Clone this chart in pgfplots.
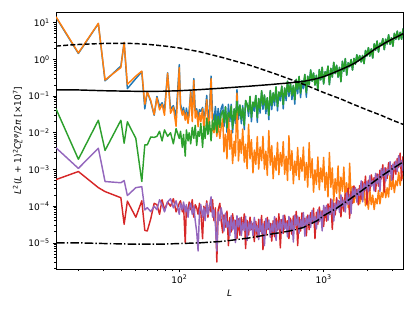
\documentclass[border=0pt]{standalone}
\usepackage{fontspec}
\setmainfont{DejaVu Sans}
\usepackage{pgfplots}
\usepackage{pgfplotstable}
\pgfplotsset{compat=1.18}
\definecolor{c0}{HTML}{1F77B4}
\definecolor{c1}{HTML}{FF7F0E}
\definecolor{c2}{HTML}{2CA02C}
\definecolor{c3}{HTML}{D62728}
\definecolor{c4}{HTML}{9467BD}

\pgfplotstableread{
L B O G R P
14 14 14.5 0.045 5.3e-4 3.9e-3
20 1.45 1.5 1.9e-3 8.8e-4 1.07e-3
27.5 9.4 9.6 0.022 3.2e-4 3.8e-3
30.6 0.26 0.275 3.3e-3 2.5e-4 4.7e-4
39.4 0.66 0.6 0.022 1.7e-4 4.35e-4
41.5 2.9 2.9 5.2e-3 3.2e-5 5.0e-4
43.7 0.16 0.21 0.02 1.37e-4 1.95e-4
50 0.3 0.35 7e-3 5e-5 3.2e-4
55 0.46 0.48 4.7e-4 1.4e-4 3.4e-4
57.7 0.045 0.06 4.7e-3 2.2e-5 7.9e-5
60 0.13 0.13 4.7e-3 2.1e-5 9.1e-5
63.5 0.07 0.075 7.7e-3 4.6e-5 7.1e-5
67 0.03 0.031 7.5e-3 1.2e-4 1.0e-4
70 0.098 0.09 8e-3 1.1e-4 8e-5
73 0.053 0.042 0.011 6e-5 1.5e-4
76 0.066 0.06 6e-3 1.5e-4 1.1e-4
79 0.042 0.03 0.012 8e-5 7e-5
83 0.43 0.42 8e-3 1.3e-4 1.3e-4
87 0.044 0.034 0.01 1.0e-4 1.6e-4
91 0.055 0.05 5e-3 1.6e-4 9e-5
95 0.028 0.015 0.013 7e-5 1.4e-4
100 0.72 0.6 7e-3 1.2e-4 6e-5
102 0.061 0.05 0.011 1.4e-4 1.2e-4
105 0.034 0.03 4e-3 7e-5 8e-5
107 0.049 0.04 9e-3 1.1e-4 1.3e-4
110 0.024 0.022 2.3e-3 1.0e-5 7e-5
112 0.047 0.035 0.012 1.0e-4 1.1e-4
115 0.024 0.018 6e-3 6e-5 5e-5
117 0.04 0.03 0.01 1.3e-4 9e-5
120 0.135 0.13 5e-3 8e-5 1.2e-4
123 0.034 0.02 0.014 1.5e-4 6e-5
126 0.30 0.27 7e-3 5e-5 1.0e-4
129 0.041 0.025 0.016 1.1e-4 4e-5
132 0.045 0.04 4.5e-3 9e-5 2e-5
135 0.026 0.0146 0.011 6e-5 6e-6
138 0.043 0.035 8e-3 1.2e-4 7e-5
141 0.038 0.02 0.018 7e-5 1.1e-4
145 0.049 0.045 4e-3 1.3e-5 5e-5
148 0.027 0.012 0.015 1.0e-4 9e-5
151 0.037 0.03 7e-3 6e-5 4e-5
155 0.105 0.08 0.025 1.4e-4 1.2e-4
158 0.024 0.015 9e-3 5e-5 6e-5
162 0.045 0.025 0.02 1.1e-4 1.0e-4
166 0.35 0.3 6e-3 7e-5 1.8e-4
170 0.034 0.012 0.022 1.5e-4 5e-5
174 0.022 0.01 0.012 4e-5 8e-5
178 0.052 0.022 0.03 9e-5 3e-5
182 0.018 0.008 0.01 3e-6 6e-6
186 0.046 0.018 0.028 8e-5 7e-5
191 0.021 0.007 0.014 1.2e-4 4e-5
195 0.046 0.014 0.032 4e-5 9e-5
200 0.06 0.024 0.040 1.88e-5 5.2e-5
204 0.0147 3.02e-3 0.0193 5.8e-5 2.1e-5
209 0.052 9.1e-3 0.0507 2.69e-5 6.5e-5
214 0.0103 1.95e-3 0.0136 7.3e-5 2.66e-5
219 0.06 0.0316 0.0355 8.4e-6 3.85e-5
224 0.020 3.55e-3 0.0263 4.9e-5 1.57e-5
229 0.06 0.0117 0.0537 2.0e-5 5.5e-5
234 0.010 1.45e-3 0.0132 6.2e-5 2.24e-5
240 0.0447 5.9e-3 0.0447 2.85e-5 4.2e-5
245 0.0178 2.34e-3 0.0234 4.1e-5 1.02e-5
251 0.15 0.12 0.0724 1.3e-5 5.5e-5
257 0.023 1.7e-3 0.0302 4.5e-5 2.74e-5
263 0.0569 6.6e-3 0.0569 1.62e-5 4.8e-5
269 0.0176 2.75e-3 0.0232 5.0e-5 1.58e-5
275 0.055 0.0126 0.0479 2.28e-5 3.6e-5
282 0.0122 1.58e-3 0.0160 6.2e-5 2.14e-5
288 0.0759 4.9e-3 0.0759 7.0e-6 5.3e-5
295 0.060 1.05e-3 0.060 4.1e-5 1.15e-5
302 0.028 0.017 0.0372 1.64e-5 3.7e-5
309 0.0977 1.95e-3 0.0977 5.05e-5 2.18e-5
316 0.020 6.5e-3 0.0263 2.32e-5 3.85e-5
324 0.0684 8.1e-4 0.0684 3.4e-5 1.58e-5
331 0.0385 3.4e-3 0.0507 1.08e-5 4.95e-5
339 0.1035 1.38e-3 0.1035 3.85e-5 2.04e-5
347 0.0193 7.9e-3 0.0254 1.4e-5 2.99e-5
355 0.0861 1.02e-3 0.0861 4.4e-5 1.23e-5
363 0.0343 4.1e-3 0.0452 2.04e-5 4.4e-5
372 0.1396 1.74e-3 0.1396 5.6e-5 1.8e-5
380 0.0437 8.0e-3 0.0575 6.5e-6 3.4e-5
389 0.107 1.02e-3 0.107 3.85e-5 8.4e-6
398 0.0332 3.16e-3 0.0437 1.58e-5 4.6e-5
407 0.0902 6.9e-4 0.0902 4.95e-5 2.32e-5
417 0.0227 0.0115 0.0299 2.32e-5 4.2e-5
427 0.141 1.32e-3 0.141 3.4e-5 1.42e-5
437 0.0427 4.5e-3 0.0562 1.11e-5 3.3e-5
447 0.122 5.6e-4 0.122 4.0e-5 2.03e-5
457 0.055 2.34e-3 0.0724 1.47e-5 5.2e-5
468 0.178 9.5e-4 0.178 4.7e-5 1.16e-5
479 0.0394 5.5e-3 0.0519 2.21e-5 3.8e-5
490 0.129 7.2e-4 0.129 6.2e-5 2.34e-5
501 0.0742 2.9e-3 0.0977 7.3e-6 4.3e-5
513 0.186 1.23e-3 0.186 4.3e-5 1.78e-5
525 0.0448 5.75e-3 0.0589 1.81e-5 5.65e-5
537 0.166 7.4e-4 0.166 5.7e-5 2.36e-5
550 0.0752 2.29e-3 0.0989 2.72e-5 3.5e-5
562 0.254 5.0e-4 0.254 4.0e-5 1.46e-5
575 0.0965 8.3e-3 0.127 1.3e-5 5.25e-5
589 0.219 9.5e-4 0.219 4.7e-5 2.19e-5
603 0.080 3.24e-3 0.105 1.72e-5 4.2e-5
617 0.195 4.1e-4 0.195 5.4e-5 1.05e-5
631 0.060 1.7e-3 0.0794 2.57e-5 5.75e-5
646 0.285 6.9e-4 0.285 7.2e-5 2.95e-5
661 0.116 3.98e-3 0.153 8.4e-6 5.4e-5
676 0.343 5.25e-4 0.343 5.0e-5 1.82e-5
692 0.091 2.09e-3 0.120 2.1e-5 4.3e-5
708 0.263 8.9e-4 0.263 6.6e-5 2.6e-5
724 0.159 4.07e-3 0.209 3.1e-5 6.7e-5
741 0.389 5.1e-4 0.389 4.7e-5 1.51e-5
759 0.093 1.55e-3 0.123 1.56e-5 5.1e-5
776 0.347 3.3e-4 0.347 5.7e-5 3.2e-5
794 0.204 5.4e-3 0.204 2.28e-5 5.7e-5
813 0.516 6.0e-4 0.516 6.6e-5 2.64e-5
832 0.255 1.95e-3 0.255 3.4e-5 7.7e-5
851 0.426 2.4e-4 0.426 8.9e-5 3.56e-5
871 0.200 9.8e-4 0.200 1.3e-5 5.2e-5
891 0.367 3.9e-4 0.367 6.8e-5 2.4e-5
912 0.147 2.19e-3 0.147 3.2e-5 8.0e-5
933 0.526 2.8e-4 0.526 9.5e-5 3.8e-5
955 0.278 1.1e-3 0.278 5.0e-5 7.1e-5
977 0.612 4.6e-4 0.612 7.5e-5 2.12e-5
1000 0.214 2.14e-3 0.214 2.8e-5 1.05e-4
1023 0.460 2.7e-4 0.460 9.3e-5 5.9e-5
1047 0.360 8.3e-4 0.360 3.9e-5 1.05e-4
1072 0.659 1.78e-4 0.659 1.15e-4 4.1e-5
1096 0.205 2.9e-3 0.205 6.0e-5 9.1e-5
1122 0.569 3.3e-4 0.569 1.58e-4 6.0e-5
1148 0.330 1.1e-3 0.330 2.34e-5 1.48e-4
1175 0.834 1.36e-4 0.834 1.23e-4 3.9e-5
1202 0.411 5.6e-4 0.411 5.75e-5 1.2e-4
1230 0.692 2.24e-4 0.692 1.7e-4 7.9e-5
1259 0.329 1.25e-3 0.329 9.1e-5 1.44e-4
1288 0.608 1.6e-4 0.608 1.36e-4 6.8e-5
1318 0.246 6.2e-4 0.246 5.1e-5 2.04e-4
1349 0.887 2.56e-4 0.887 1.73e-4 9.7e-5
1380 0.473 1.16e-3 0.473 7.3e-5 1.46e-4
1413 1.05 1.45e-4 1.05 2.19e-4 6.9e-5
1445 0.371 4.35e-4 0.371 1.17e-4 2.33e-4
1479 0.805 9.2e-5 0.805 3.1e-4 1.11e-4
1514 0.631 1.49e-3 0.631 4.7e-5 2.09e-4
1549 0.989 1.66e-4 0.989 2.49e-4 6.3e-5
1585 0.513 3.4e-4 0.513 1.19e-4 3.1e-4
1622 1.06 1.24e-4 1.06 3.56e-4 1.79e-4
1660 0.741 2.3e-4 0.741 1.91e-4 3.24e-4
1698 1.33 1.46e-4 1.33 2.86e-4 1.28e-4
1738 0.912 3.0e-4 0.912 1.08e-4 2.92e-4
1778 1.27 1.16e-4 1.27 3.65e-4 1.96e-4
1820 0.851 2.1e-4 0.851 1.55e-4 4.9e-4
1862 1.28 1.36e-4 1.28 4.6e-4 1.31e-4
1905 0.769 2.67e-4 0.769 2.47e-4 4.1e-4
1950 1.75 1.02e-4 1.75 6.6e-4 2.75e-4
1995 1.24 1.67e-4 1.24 1.13e-4 4.8e-4
2042 2.09 8.3e-5 2.09 5.1e-4 2.47e-4
2089 1.23 2.8e-4 1.23 2.63e-4 6.7e-4
2138 1.94 1.1e-4 1.94 7.1e-4 3.46e-4
2188 1.09 2.0e-4 1.09 4.1e-4 5.0e-4
2239 2.65 8.1e-5 2.65 6.0e-4 2.6e-4
2291 1.78 1.62e-4 1.78 2.51e-4 7.85e-4
2344 3.17 1.16e-4 3.17 7.6e-4 4.06e-4
2399 1.59 2.7e-4 1.59 3.5e-4 7.3e-4
2455 2.77 1.16e-4 2.77 9.6e-4 2.49e-4
2512 2.42 2.34e-4 2.42 5.5e-4 1.07e-3
2570 3.67 1.74e-4 3.67 1.34e-3 6.5e-4
2630 1.85 3.9e-4 1.85 2.44e-4 1.1e-3
2692 3.55 1.7e-4 3.55 1.11e-3 4.8e-4
2754 2.63 3.16e-4 2.63 5.7e-4 1.01e-3
2818 4.68 1.78e-4 4.68 1.53e-3 7.1e-4
2884 2.57 6.9e-4 2.57 8.7e-4 1.63e-3
2951 3.89 2.85e-4 3.89 1.27e-3 5.0e-4
3020 2.29 5.5e-4 2.29 5.3e-4 1.41e-3
3090 5.13 2.34e-4 5.13 1.59e-3 9.9e-4
3162 3.55 4.9e-4 3.55 7.4e-4 1.69e-3
3236 5.89 3.6e-4 5.89 2.0e-3 8.7e-4
3311 3.47 8.5e-4 3.47 1.15e-3 2.37e-3
3388 5.50 3.7e-4 5.50 2.79e-3 1.22e-3
3467 3.55 7.7e-4 3.55 5.1e-4 1.77e-3
3548 6.92 5.6e-4 6.92 2.32e-3 9.1e-4
}\noisy

\pgfplotstableread{
L N
14 0.148
20 0.147
30 0.140
40 0.137
50 0.135
60 0.134
80 0.136
100 0.140
138 0.150
200 0.165
300 0.185
420 0.205
550 0.225
720 0.25
900 0.30
1000 0.34
1100 0.39
1230 0.47
1350 0.55
1500 0.66
1650 0.80
1800 1.0
1950 1.25
2080 1.5
2300 2.0
2500 2.4
2700 2.9
3000 3.6
3300 4.3
3548 5.0
}\noisecurve

\pgfplotstableread{
L S
14 2.3
17 2.45
20 2.55
25 2.65
30 2.72
40 2.75
50 2.7
62 2.55
80 2.3
100 2.05
138 1.62
200 1.12
306 0.70
450 0.42
646 0.25
800 0.18
1000 0.125
1300 0.085
1600 0.06
2000 0.042
2500 0.03
3000 0.022
3548 0.017
}\signalcurve

\pgfplotstableread{
L D
14 1.0e-5
20 1.0e-5
30 0.96e-5
50 0.92e-5
80 0.93e-5
138 1.0e-5
200 1.1e-5
300 1.35e-5
420 1.7e-5
580 2.1e-5
720 2.6e-5
900 4.0e-5
1000 5.5e-5
1225 8.7e-5
1500 1.5e-4
1800 2.5e-4
2080 3.8e-4
2500 6.5e-4
3000 1.05e-3
3548 1.6e-3
}\lownoise

\begin{document}
\begin{tikzpicture}[x=1pt,y=1pt]
\useasboundingbox (-62.2,-46.6) rectangle (398.6,298.6);
\begin{axis}[
  at={(0,0)}, anchor=south west,
  scale only axis, width=385.3pt, height=285.3pt,
  xmode=log, ymode=log,
  xmin=14, xmax=3548, ymin=1.95e-6, ymax=19.6,
  axis line style={black, line width=0.8pt},
  tick style={black, line width=0.8pt},
  major tick length=3.5pt, minor tick length=2pt,
  tick align=outside, tick pos=left,
  xtick={100,1000},
  xticklabels={10\textsuperscript{2},10\textsuperscript{3}},
  minor xtick={20,30,40,50,60,70,80,90,200,300,400,500,600,700,800,900,2000,3000},
  ytick={1e-5,1e-4,1e-3,1e-2,1e-1,1,10},
  yticklabels={10\textsuperscript{−5},10\textsuperscript{−4},10\textsuperscript{−3},10\textsuperscript{−2},10\textsuperscript{−1},10\textsuperscript{0},10\textsuperscript{1}},
  minor ytick={2e-6,3e-6,4e-6,5e-6,6e-6,7e-6,8e-6,9e-6,2e-5,3e-5,4e-5,5e-5,6e-5,7e-5,8e-5,9e-5,2e-4,3e-4,4e-4,5e-4,6e-4,7e-4,8e-4,9e-4,2e-3,3e-3,4e-3,5e-3,6e-3,7e-3,8e-3,9e-3,2e-2,3e-2,4e-2,5e-2,6e-2,7e-2,8e-2,9e-2,0.2,0.3,0.4,0.5,0.6,0.7,0.8,0.9,2,3,4,5,6,7,8,9},
  xlabel={\textit{L}},
  ylabel={\textit{L}\textsuperscript{2}(\textit{L} + 1)\textsuperscript{2}\textit{C}\makebox[0pt][l]{\textsubscript{\textit{L}}}\textsuperscript{\textit{φφ}}/2\textit{π} [×10\textsuperscript{7}]},
  every axis plot/.append style={line join=round},
]
\addplot[c0, line width=1.6pt] table[x=L, y=B] {\noisy};
\addplot[c1, line width=1.6pt] table[x=L, y=O] {\noisy};
\addplot[c2, line width=1.6pt] table[x=L, y=G] {\noisy};
\addplot[c3, line width=1.6pt] table[x=L, y=R] {\noisy};
\addplot[c4, line width=1.6pt] table[x=L, y=P] {\noisy};
\addplot[black, line width=1.6pt, dash pattern=on 5.55pt off 2.4pt] table[x=L, y=S] {\signalcurve};
\addplot[black, line width=1.6pt] table[x=L, y=N] {\noisecurve};
\addplot[black, line width=1.6pt, dash pattern=on 9.6pt off 2.4pt on 1.5pt off 2.4pt] table[x=L, y=D] {\lownoise};
\end{axis}
\end{tikzpicture}
\end{document}
